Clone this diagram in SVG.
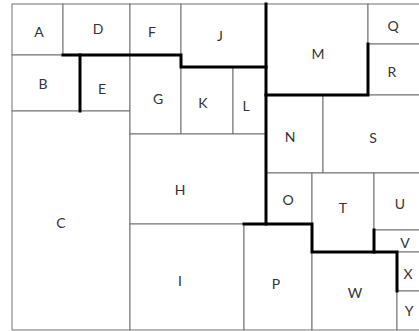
<svg xmlns="http://www.w3.org/2000/svg" width="419" height="331" viewBox="0 0 419 331">
<style>
rect{fill:#fff;stroke:#707070;stroke-width:1}
text{font-family:"Lato","DejaVu Sans",sans-serif;font-size:14px;fill:#333;text-anchor:middle;dominant-baseline:central}
.thick{fill:none;stroke:#000;stroke-width:3;stroke-linejoin:miter;stroke-linecap:square}
</style>
<rect x="0" y="0" width="419" height="331" style="stroke:none"/>
<g id="A"><rect x="12" y="4" width="51" height="51"/><text x="39" y="31">A</text></g>
<g id="D"><rect x="63" y="4" width="67" height="51"/><text x="98" y="28">D</text></g>
<g id="B"><rect x="12" y="55" width="68" height="56"/><text x="43" y="83">B</text></g>
<g id="E"><rect x="80" y="55" width="50" height="56"/><text x="102" y="88">E</text></g>
<g id="C"><rect x="12" y="111" width="118" height="219"/><text x="61" y="222">C</text></g>
<g id="F"><rect x="130" y="4" width="51" height="51"/><text x="152" y="31">F</text></g>
<g id="J"><rect x="181" y="4" width="85" height="63"/><text x="220" y="35">J</text></g>
<g id="G"><rect x="130" y="55" width="51" height="79"/><text x="158" y="98">G</text></g>
<g id="K"><rect x="181" y="67" width="52" height="67"/><text x="203" y="102">K</text></g>
<g id="L"><rect x="233" y="67" width="33" height="67"/><text x="246" y="105">L</text></g>
<g id="H"><rect x="130" y="134" width="136" height="90"/><text x="180" y="189">H</text></g>
<g id="I"><rect x="130" y="224" width="114" height="106"/><text x="180" y="280">I</text></g>
<g id="M"><rect x="266" y="4" width="102" height="91"/><text x="318" y="53">M</text></g>
<g id="Q"><rect x="368" y="4" width="52" height="40"/><text x="393" y="25">Q</text></g>
<g id="R"><rect x="368" y="44" width="52" height="51"/><text x="392" y="71">R</text></g>
<g id="N"><rect x="266" y="95" width="57" height="78"/><text x="290" y="136">N</text></g>
<g id="S"><rect x="323" y="95" width="97" height="78"/><text x="373" y="137">S</text></g>
<g id="O"><rect x="266" y="173" width="46" height="51"/><text x="288" y="199">O</text></g>
<g id="T"><rect x="312" y="173" width="62" height="79"/><text x="343" y="207">T</text></g>
<g id="U"><rect x="374" y="173" width="46" height="57"/><text x="400" y="203">U</text></g>
<g id="V"><rect x="374" y="230" width="46" height="22"/><text x="405" y="242">V</text></g>
<g id="P"><rect x="244" y="224" width="68" height="106"/><text x="276" y="283">P</text></g>
<g id="W"><rect x="312" y="252" width="85" height="78"/><text x="355" y="292">W</text></g>
<g id="X"><rect x="397" y="252" width="23" height="39"/><text x="408" y="273">X</text></g>
<g id="Y"><rect x="397" y="291" width="23" height="39"/><text x="409" y="310">Y</text></g>
<g id="boundaries">
<path class="thick" d="M63 55H181V67H266"/>
<path class="thick" d="M80 55V111"/>
<path class="thick" d="M266 4V224"/>
<path class="thick" d="M244 224H312V252H397V291"/>
<path class="thick" d="M266 95H368V44"/>
<path class="thick" d="M374 252V230"/>
</g>
</svg>
